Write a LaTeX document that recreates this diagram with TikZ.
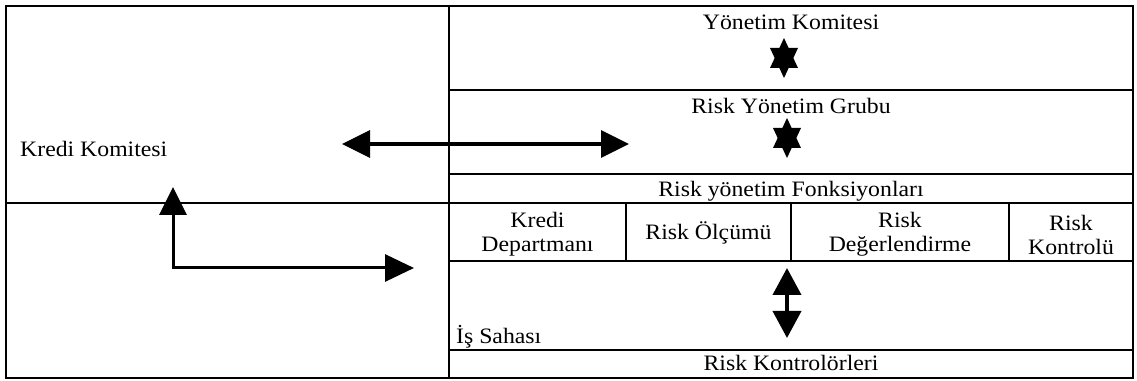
\documentclass[tikz,border=0pt]{standalone}
\usepackage{fontspec}
\setmainfont{Liberation Serif}[FakeStretch=1.08]
\usetikzlibrary{arrows.meta}
\begin{document}
\begin{tikzpicture}[x=1pt,y=1pt,
  frame/.style={line width=1.8pt},
  lbl/.style={font=\fontsize{22}{21}\selectfont, inner sep=0pt},
  lbltwo/.style={lbl, align=center, font=\fontsize{22}{24}\selectfont},
  harrow/.style={line width=3.5pt, {Triangle[length=28pt,width=27pt]}-{Triangle[length=28pt,width=27pt]}},
  elbowarrow/.style={line width=3pt, {Triangle[length=28pt,width=27pt]}-{Triangle[length=29pt,width=27pt]}},
  varrow/.style={line width=4pt, {Triangle[length=27pt,width=28pt]}-{Triangle[length=27pt,width=28pt]}},
  hexstar/.pic={\fill (0,20) -- (-14,-10) -- (14,-10) -- cycle;
                \fill (0,-20) -- (-14,10) -- (14,10) -- cycle;}
]
\useasboundingbox (0,0) rectangle (1137,380);
% frame and grid
\draw[frame] (6,2) rectangle (1133,374);
\draw[frame] (449,2) -- (449,374);
\draw[frame] (449,290) -- (1133,290);
\draw[frame] (449,206) -- (1133,206);
\draw[frame] (6,177) -- (1133,177);
\draw[frame] (449,119) -- (1133,119);
\draw[frame] (449,30) -- (1133,30);
\draw[frame] (626,177) -- (626,119);
\draw[frame] (791,177) -- (791,119);
\draw[frame] (1009,177) -- (1009,119);
% texts
\node[lbl, anchor=base] (ykom) at (791,350) {Yönetim Komitesi};
\node[lbl, anchor=base] (rgrup) at (791,266) {Risk Yönetim Grubu};
\node[lbl, anchor=base] (rfonk) at (791,183) {Risk yönetim Fonksiyonları};
\node[lbl, anchor=base west] (kkom) at (20,223) {Kredi Komitesi};
\node[lbltwo] (kdep) at (537.5,145.5) {Kredi\\Departmanı};
\node[lbl, anchor=base] (rolc) at (708.5,140) {Risk Ölçümü};
\node[lbltwo] (rdeg) at (900,145.5) {Risk\\Değerlendirme};
\node[lbltwo] (rkon) at (1071,145.5) {Risk\\Kontrolü};
\node[lbl, anchor=base west] (isah) at (456,37) {İş Sahası};
\node[lbl, anchor=base] (rkont) at (791,10) {Risk Kontrolörleri};
% stars
\pic at (784,322) {hexstar};
\pic at (787,242) {hexstar};
% arrows
\coordinate (hl) at (342,236);
\coordinate (hr) at (629,236);
\draw[harrow] (hl) -- (hr);
\coordinate (eu) at (173,193);
\coordinate (ec) at (173,112);
\coordinate (er) at (414,112);
\draw[elbowarrow] (eu) -- (ec) -- (er);
\coordinate (vt) at (787,112);
\coordinate (vb) at (787,42);
\draw[varrow] (vt) -- (vb);
\end{tikzpicture}
\end{document}
